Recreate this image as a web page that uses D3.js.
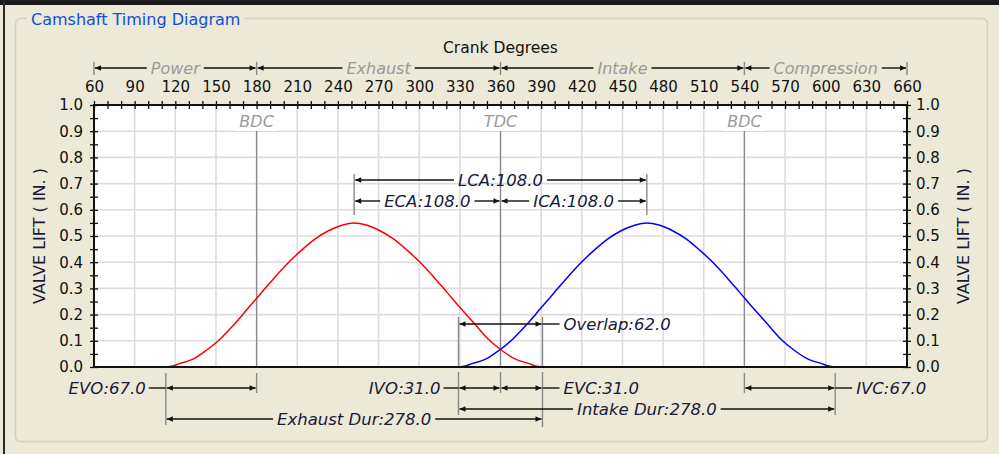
<!DOCTYPE html>
<html><head><meta charset="utf-8">
<script src="https://cdn.jsdelivr.net/npm/d3@7"></script>
<style>html,body{margin:0;padding:0;background:#ECE9D8;overflow:hidden}</style>
</head><body><svg id="c" width="999" height="454"></svg>
<script>
// ---------------- data ----------------
const chartTitle = "Camshaft Timing Diagram";
const xAxisTitle = "Crank Degrees";
const yAxisTitle = "VALVE LIFT ( IN. )";
const xTickLabels = [60,90,120,150,180,210,240,270,300,330,360,390,420,450,480,510,540,570,600,630,660];
const yTickLabels = ["0.0","0.1","0.2","0.3","0.4","0.5","0.6","0.7","0.8","0.9","1.0"];
const phaseNames = ["Power","Exhaust","Intake","Compression"];
const phaseBounds = [60,180,360,540,660];
const deadCenterNames = ["BDC","TDC","BDC"];
const deadCenterAngles = [180,360,540];

const exhaustAngles = [113,118,123,133,143,153,163,173,183,193,203,213,223,233,243,252,261,271,281,291,301,311,321,331,341,351,361,371,381,386,391];
const exhaustLift   = [0,0.004,0.013,0.03,0.064,0.106,0.16,0.22,0.28,0.34,0.396,0.445,0.488,0.52,0.541,0.55,0.542,0.52,0.489,0.446,0.398,0.342,0.282,0.222,0.164,0.106,0.063,0.03,0.013,0.004,0];
const intakeAngles  = [329,334,339,349,359,369,379,389,399,409,419,429,439,449,459,468,477,487,497,507,517,527,537,547,557,567,577,587,597,602,607];
const intakeLift    = [0,0.004,0.013,0.03,0.064,0.106,0.16,0.22,0.28,0.34,0.396,0.445,0.488,0.52,0.541,0.55,0.542,0.52,0.489,0.446,0.398,0.342,0.282,0.222,0.164,0.106,0.063,0.03,0.013,0.004,0];

const timingNames  = ["EVO","EVC","IVO","IVC"];
const timingValues = [67.0,31.0,31.0,67.0];
const centerNames  = ["LCA","ECA","ICA"];
const centerValues = [108.0,108.0,108.0];
const overlapName  = "Overlap";
const overlapValue = 62.0;
const durationNames  = ["Exhaust Dur","Intake Dur"];
const durationValues = [278.0,278.0];

// ---------------- derived angles ----------------
const EVO = 180 - timingValues[0], EVC = 360 + timingValues[1];
const IVO = 360 - timingValues[2], IVC = 540 + timingValues[3];
const ECL = 360 - centerValues[1], ICL = 360 + centerValues[2];
const fmt = v => v.toFixed(1);

// ---------------- drawing ----------------
const W = 999, H = 454;
const FONT = "DejaVu Sans";
const svg = d3.select("#c");
const x = d3.scaleLinear().domain([60,660]).range([94,907]);
const y = d3.scaleLinear().domain([0,1]).range([367,105]);

svg.append("rect").attr("width",W).attr("height",H).attr("fill","#ECE9D8");
svg.append("rect").attr("x",0).attr("y",0).attr("width",W).attr("height",5).attr("fill","#1b1b1b");
svg.append("rect").attr("x",3).attr("y",0).attr("width",2).attr("height",H).attr("fill","#2a2a2a");

// group box
svg.append("rect").attr("x",15.5).attr("y",18.5).attr("width",972).attr("height",423).attr("rx",5)
  .attr("fill","none").attr("stroke","#D3D0BC").attr("stroke-width",1.5);
const tt = svg.append("text").attr("x",31).attr("y",25).attr("font-family",FONT).attr("font-size",16)
  .attr("fill","#1050D8").text(chartTitle);
const tw = tt.node().getComputedTextLength();
svg.insert("rect","text").attr("x",27).attr("y",10).attr("width",tw+8).attr("height",16).attr("fill","#ECE9D8");

// plot background
svg.append("rect").attr("x",x(60)).attr("y",y(1)).attr("width",x(660)-x(60)).attr("height",y(0)-y(1)).attr("fill","#fff");

// grid
const grid = svg.append("g").attr("stroke","#DCDCDC").attr("stroke-width",1.6);
xTickLabels.forEach(v => grid.append("line").attr("x1",x(v)).attr("x2",x(v)).attr("y1",y(1)).attr("y2",y(0)));
yTickLabels.forEach(v => grid.append("line").attr("x1",x(60)).attr("x2",x(660)).attr("y1",y(+v)).attr("y2",y(+v)));

// dead centers
const GRAY = "#8a8a8a";
deadCenterAngles.forEach((a,i) => {
  svg.append("rect").attr("x",x(a)-21).attr("y",107).attr("width",42).attr("height",24).attr("fill","#fff");
  svg.append("line").attr("x1",x(a)).attr("x2",x(a)).attr("y1",131).attr("y2",y(0)).attr("stroke",GRAY).attr("stroke-width",1.3);
  svg.append("text").attr("x",x(a)).attr("y",127).attr("text-anchor","middle").attr("font-family",FONT)
    .attr("font-style","italic").attr("font-size",16).attr("fill","#9a9a9a").text(deadCenterNames[i]);
});

// helpers
const INK = "#1a1a3a";
function hline(x1,x2,yy){ svg.append("line").attr("x1",x1).attr("x2",x2).attr("y1",yy).attr("y2",yy).attr("stroke","#111").attr("stroke-width",1.4); }
function vbar(xx,y1,y2){ svg.append("line").attr("x1",xx).attr("x2",xx).attr("y1",y1).attr("y2",y2).attr("stroke",GRAY).attr("stroke-width",1.4); }
function arrow(tip,yy,dir){ // dir -1 = pointing left, 1 = pointing right
  const b = tip - dir*6;
  svg.append("path").attr("d",`M${tip},${yy}L${b},${yy-2.8}L${b},${yy+2.8}Z`).attr("fill","#111");
}
function label(t,xx,yy,anchor,color,size){
  return svg.append("text").attr("x",xx).attr("y",yy).attr("text-anchor",anchor).attr("font-family",FONT)
    .attr("font-style","italic").attr("font-size",size||16.5).attr("fill",color||INK).text(t);
}
function dimCentered(a,b,yy,t,color,size){
  const xa=x(a), xb=x(b), cx=(xa+xb)/2;
  const lab = label(t,cx,yy+6,"middle",color,size);
  const w = lab.node().getComputedTextLength();
  hline(xa+1,cx-w/2-4,yy); hline(cx+w/2+4,xb-1,yy);
  arrow(xa+1,yy,-1); arrow(xb-1,yy,1);
}
function dimPlain(a,b,yy){ const xa=x(a), xb=x(b); hline(xa+1,xb-1,yy); arrow(xa+1,yy,-1); arrow(xb-1,yy,1); }

// phases (top)
phaseNames.forEach((p,i) => {
  dimCentered(phaseBounds[i],phaseBounds[i+1],68,p,"#9a9a9a",16);
});
phaseBounds.forEach(v => vbar(x(v),62,75));

// curves
const line = d3.line().x(d=>x(d[0])).y(d=>y(d[1])).curve(d3.curveMonotoneX);
svg.append("path").attr("d",line(d3.zip(exhaustAngles,exhaustLift))).attr("fill","none").attr("stroke","#FF0000").attr("stroke-width",1.5);
svg.append("path").attr("d",line(d3.zip(intakeAngles,intakeLift))).attr("fill","none").attr("stroke","#0000FF").attr("stroke-width",1.5);

// axes
const axStyle = g => { g.select(".domain").remove(); g.selectAll("line").attr("stroke","#111").attr("stroke-width",1.3); g.selectAll("text").attr("font-family",FONT).attr("font-size",15).attr("fill","#111"); };
const minorX = d3.range(60,661,10);
const minorY = d3.range(0,1.0001,0.05);
svg.append("g").attr("transform",`translate(0,${y(1)})`).call(d3.axisTop(x).tickValues(minorX).tickSize(4).tickFormat("")).call(axStyle);
svg.append("g").attr("transform",`translate(0,${y(1)})`).call(d3.axisBottom(x).tickValues(minorX).tickSize(4).tickFormat("")).call(axStyle);
svg.append("g").attr("transform",`translate(0,${y(1)})`).call(d3.axisTop(x).tickValues(xTickLabels).tickSize(0).tickPadding(13).tickFormat(d3.format("d"))).call(axStyle);
[x(60),x(660)].forEach(px => {
  svg.append("g").attr("transform",`translate(${px},0)`).call(d3.axisLeft(y).tickValues(minorY).tickSize(4).tickFormat("")).call(axStyle);
  svg.append("g").attr("transform",`translate(${px},0)`).call(d3.axisRight(y).tickValues(minorY).tickSize(4).tickFormat("")).call(axStyle);
});
svg.append("g").attr("transform",`translate(${x(60)},0)`).call(d3.axisLeft(y).tickValues(yTickLabels.map(Number)).tickSize(0).tickPadding(11).tickFormat(d3.format(".1f"))).call(axStyle);
svg.append("g").attr("transform",`translate(${x(660)},0)`).call(d3.axisRight(y).tickValues(yTickLabels.map(Number)).tickSize(0).tickPadding(9).tickFormat(d3.format(".1f"))).call(axStyle);
svg.append("rect").attr("x",x(60)).attr("y",y(1)).attr("width",x(660)-x(60)).attr("height",y(0)-y(1))
  .attr("fill","none").attr("stroke","#111").attr("stroke-width",2);

// axis titles
svg.append("text").attr("x",x(360)).attr("y",53).attr("text-anchor","middle").attr("font-family",FONT).attr("font-size",15.5).attr("fill","#111").text(xAxisTitle);
svg.append("text").attr("transform",`translate(45,${(y(0)+y(1))/2}) rotate(-90)`).attr("text-anchor","middle").attr("font-family",FONT).attr("font-size",16).attr("fill","#1a1a3a").text(yAxisTitle);
svg.append("text").attr("transform",`translate(969,${(y(0)+y(1))/2}) rotate(-90)`).attr("text-anchor","middle").attr("font-family",FONT).attr("font-size",16).attr("fill","#1a1a3a").text(yAxisTitle);

// centerline annotations
dimCentered(ECL,ICL,180,`${centerNames[0]}:${fmt(centerValues[0])}`);
dimCentered(ECL,360,201,`${centerNames[1]}:${fmt(centerValues[1])}`);
dimCentered(360,ICL,201,`${centerNames[2]}:${fmt(centerValues[2])}`);
vbar(x(ECL),174,215); vbar(x(ICL),174,215);

// overlap
vbar(x(IVO),317,366); vbar(x(EVC),317,366);
dimPlain(IVO,EVC,324);
const ol = label(`${overlapName}:${fmt(overlapValue)}`,x(EVC)+21,330,"start");
hline(x(EVC),x(EVC)+17,324);

// below axis bars
vbar(x(EVO),373,425); vbar(x(180),373,393); vbar(x(IVO),372,415); vbar(x(360),372,393);
vbar(x(EVC),372,427); vbar(x(540),373,393); vbar(x(IVC),373,415);

// timing rows
const RY = 388;
dimPlain(EVO,180,RY);
label(`${timingNames[0]}:${fmt(timingValues[0])}`,x(EVO)-20,RY+6,"end"); hline(x(EVO)-17,x(EVO),RY);
dimPlain(IVO,360,RY);
label(`${timingNames[2]}:${fmt(timingValues[2])}`,x(IVO)-18,RY+6,"end"); hline(x(IVO)-15,x(IVO),RY);
dimPlain(360,EVC,RY);
label(`${timingNames[1]}:${fmt(timingValues[1])}`,x(EVC)+21,RY+6,"start"); hline(x(EVC),x(EVC)+17,RY);
dimPlain(540,IVC,RY);
label(`${timingNames[3]}:${fmt(timingValues[3])}`,x(IVC)+21,RY+6,"start"); hline(x(IVC),x(IVC)+17,RY);

// durations
dimCentered(IVO,IVC,409,`${durationNames[1]}:${fmt(durationValues[1])}`);
dimCentered(EVO,EVC,419,`${durationNames[0]}:${fmt(durationValues[0])}`);
</script></body></html>
